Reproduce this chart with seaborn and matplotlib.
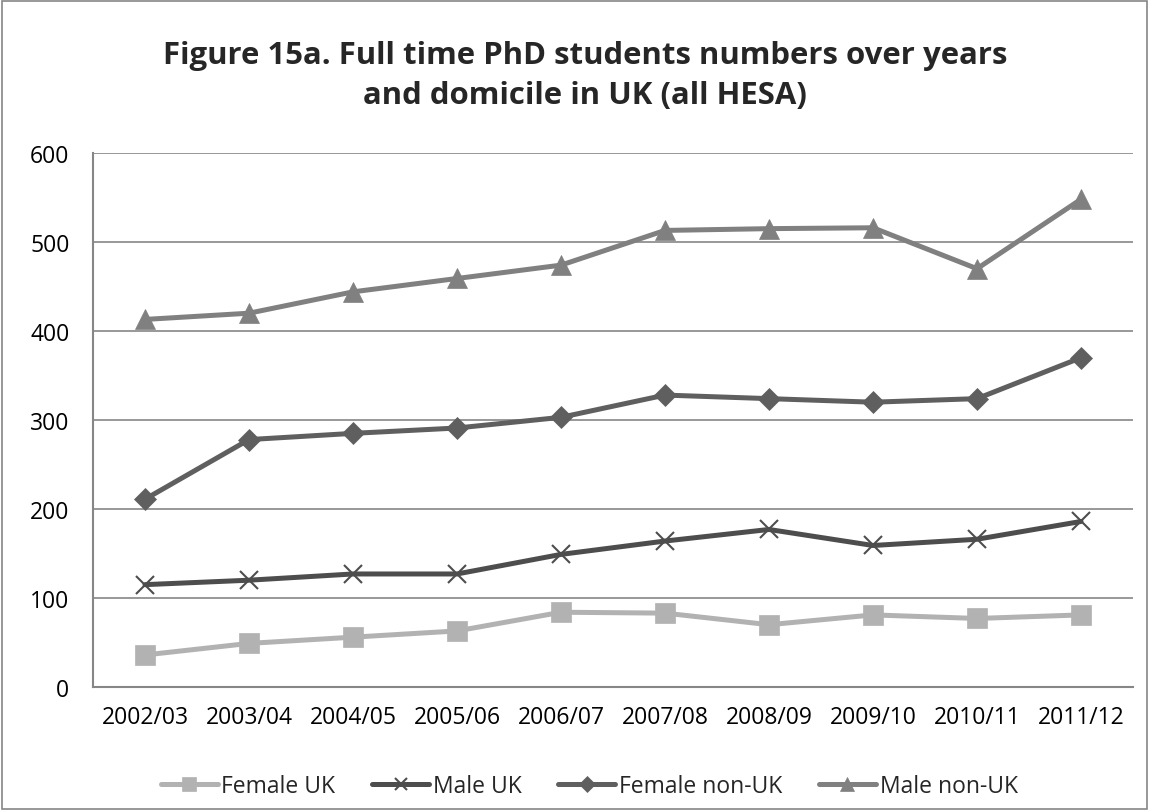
import matplotlib
matplotlib.use("Agg")
import matplotlib.pyplot as plt
from matplotlib.patches import Rectangle
import seaborn as sb
import pandas as pd

years = ["2002/03", "2003/04", "2004/05", "2005/06", "2006/07",
         "2007/08", "2008/09", "2009/10", "2010/11", "2011/12"]
female_uk = [36, 49, 56, 63, 84, 83, 70, 81, 77, 81]
male_uk = [115, 120, 127, 127, 149, 164, 177, 159, 166, 186]
female_non_uk = [211, 278, 285, 291, 303, 328, 324, 320, 324, 370]
male_non_uk = [413, 420, 444, 459, 474, 513, 515, 516, 470, 548]

series = [
    ("Female UK", female_uk, "#b2b2b2", "s", 14),
    ("Male UK", male_uk, "#4d4d4d", "x", 13),
    ("Female non-UK", female_non_uk, "#5f5f5f", "D", 11),
    ("Male non-UK", male_non_uk, "#808080", "^", 15),
]

sb.set_style("white")
plt.rcParams['font.family'] = ['Open Sans', 'DejaVu Sans']

fig = plt.figure(figsize=(11.49, 8.12), dpi=100)
ax = fig.add_axes([93 / 1149, 1 - 688 / 812, 1040 / 1149, 534 / 812])

for name, vals, col, mk, ms in series:
    df = pd.DataFrame({"x": range(len(years)), "y": vals})
    sb.lineplot(data=df, x="x", y="y", ax=ax, color=col, linewidth=3.6,
                marker=mk, markersize=ms, markeredgecolor=col,
                markeredgewidth=1.5 if mk == "x" else 0.5, label=name)

ax.set_xlim(-0.5, 9.5)
ax.set_ylim(0, 600)
ax.set_yticks(range(0, 601, 100))
ax.set_xticks(range(len(years)))
ax.set_xticklabels(years)
ax.set_xlabel("")
ax.set_ylabel("")
ax.tick_params(axis="both", labelsize=16.5, length=0, colors="black")
ax.tick_params(axis="y", pad=17)
ax.tick_params(axis="x", pad=13)
ax.yaxis.grid(True, color="#868686", linewidth=1.2)
for s in ["top", "right"]:
    ax.spines[s].set_visible(False)
for s in ["left", "bottom"]:
    ax.spines[s].set_color("#868686")
    ax.spines[s].set_linewidth(1.5)

fig.text(0.509, 1 - 76 / 812, "Figure 15a. Full time PhD students numbers over years\nand domicile in UK (all HESA)",
         ha="center", va="center", fontsize=22.4, fontweight="bold", linespacing=1.4)

ax.legend(loc="center", bbox_to_anchor=(0.477, -0.185), ncol=4, frameon=False,
          fontsize=16.5, handlelength=2.5, columnspacing=1.6, handletextpad=0.15,
          markerscale=0.7)

fig.patches.append(Rectangle((0.002, 0.002), 0.996, 0.996, transform=fig.transFigure,
                             fill=False, edgecolor="#868686", linewidth=1.2))

fig.savefig("out.png", dpi=100)
